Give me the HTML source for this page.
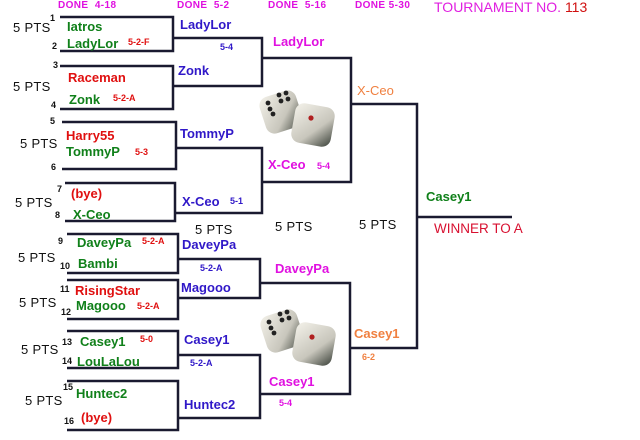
<!DOCTYPE html>
<html><head><meta charset="utf-8"><style>
body{margin:0;background:#fff;width:640px;height:440px;overflow:hidden;position:relative;font-family:"Liberation Sans",sans-serif}
.t{position:absolute;white-space:nowrap;line-height:1;font-weight:bold}
.n{font-size:13px}
.s{font-size:9px}
.p{font-size:13px;font-weight:normal;color:#111;letter-spacing:0.3px}
.g{color:#10801a}.r{color:#e01010}.b{color:#3018c8}.m{color:#e010e0}.o{color:#f08040}.k{color:#111}
.h{font-size:10px;color:#e010e0;letter-spacing:0.4px}
svg{position:absolute;left:0;top:0}
</style></head><body>
<svg width="640" height="440">
<g stroke="#1a1a30" stroke-width="2.5" fill="none">
<polyline points="60,17 173,17 173,51 60,51"/>
<polyline points="60,66 173,66 173,109 60,109"/>
<polyline points="62,122 176,122 176,169 62,169"/>
<polyline points="65,183 175,183 175,221 65,221"/>
<polyline points="173,38 262,38 262,86 173,86"/>
<polyline points="176,148 262,148 262,213 175,213"/>
<polyline points="262,58 351,58 351,182 262,182"/>
<polyline points="67,234 178,234 178,273 67,273"/>
<polyline points="67,280 178,280 178,319 67,319"/>
<polyline points="67,331 178,331 178,368 67,368"/>
<polyline points="67,381 178,381 178,430 67,430"/>
<polyline points="178,259 260,259 260,298 178,298"/>
<polyline points="178,355 260,355 260,418 178,418"/>
<polyline points="260,283 350,283 350,394 260,394"/>
<polyline points="351,104 417,104 417,348 350,348"/>
<line x1="417" y1="217" x2="512" y2="217"/>
</g>
<defs><linearGradient id="dg" x1="0" y1="0" x2="1" y2="1"><stop offset="0" stop-color="#f4f2ea"/><stop offset="0.6" stop-color="#c8c6bc"/><stop offset="1" stop-color="#3a4038"/></linearGradient></defs>
<g id="dice">
<rect x="262" y="93" width="38" height="38" rx="9" fill="url(#dg)" transform="rotate(-18 281 112)"/>
<g fill="#222"><circle cx="279" cy="95" r="2.4"/><circle cx="286" cy="93" r="2.4"/><circle cx="281" cy="101" r="2.4"/><circle cx="288" cy="99" r="2.4"/><circle cx="268" cy="103" r="2.4"/><circle cx="270" cy="109" r="2.4"/><circle cx="273" cy="114" r="2.4"/></g>
<rect x="293" y="105" width="40" height="40" rx="9" fill="url(#dg)" transform="rotate(10 313 125)"/>
<circle cx="311" cy="118" r="2.6" fill="#b02020"/>
</g>
<use href="#dice" transform="translate(1,219)"/>
</svg>
<div class="t h" style="left:58px;top:1px">DONE &nbsp;4-18</div>
<div class="t h" style="left:177px;top:1px">DONE &nbsp;5-2</div>
<div class="t h" style="left:268px;top:1px">DONE &nbsp;5-16</div>
<div class="t h" style="left:355px;top:1px">DONE 5-30</div>
<div class="t" style="left:434px;top:0px;font-size:14px;font-weight:normal;color:#e020e0">TOURNAMENT NO. <span style="color:#d01010">113</span></div>

<div class="t p" style="left:13px;top:21px">5 PTS</div>
<div class="t s k" style="left:50px;top:14px">1</div><div class="t s k" style="left:52px;top:42px">2</div>
<div class="t n g" style="left:67px;top:20px">Iatros</div>
<div class="t n g" style="left:67px;top:37px">LadyLor</div>
<div class="t s r" style="left:128px;top:38px">5-2-F</div>

<div class="t p" style="left:13px;top:80px">5 PTS</div>
<div class="t s k" style="left:53px;top:61px">3</div><div class="t s k" style="left:51px;top:101px">4</div>
<div class="t n r" style="left:68px;top:71px">Raceman</div>
<div class="t n g" style="left:69px;top:93px">Zonk</div>
<div class="t s r" style="left:113px;top:94px">5-2-A</div>

<div class="t p" style="left:20px;top:137px">5 PTS</div>
<div class="t s k" style="left:50px;top:117px">5</div><div class="t s k" style="left:51px;top:163px">6</div>
<div class="t n r" style="left:66px;top:129px">Harry55</div>
<div class="t n g" style="left:66px;top:145px">TommyP</div>
<div class="t s r" style="left:135px;top:148px">5-3</div>

<div class="t p" style="left:15px;top:196px">5 PTS</div>
<div class="t s k" style="left:57px;top:185px">7</div><div class="t s k" style="left:55px;top:211px">8</div>
<div class="t n r" style="left:71px;top:187px">(bye)</div>
<div class="t n g" style="left:73px;top:208px">X-Ceo</div>

<div class="t n b" style="left:180px;top:18px">LadyLor</div>
<div class="t s b" style="left:220px;top:43px">5-4</div>
<div class="t n b" style="left:178px;top:64px">Zonk</div>
<div class="t n b" style="left:180px;top:127px">TommyP</div>
<div class="t n b" style="left:182px;top:195px">X-Ceo</div>
<div class="t s b" style="left:230px;top:197px">5-1</div>

<div class="t n m" style="left:273px;top:35px">LadyLor</div>
<div class="t n m" style="left:268px;top:158px">X-Ceo</div>
<div class="t s m" style="left:317px;top:162px">5-4</div>
<div class="t n o" style="left:357px;top:84px;font-weight:normal">X-Ceo</div>
<div class="t n g" style="left:426px;top:190px">Casey1</div>
<div class="t" style="left:434px;top:222px;font-size:13.5px;font-weight:normal;color:#d81030">WINNER TO A</div>
<div class="t p" style="left:359px;top:218px">5 PTS</div>
<div class="t p" style="left:195px;top:223px">5 PTS</div>
<div class="t p" style="left:275px;top:220px">5 PTS</div>

<div class="t p" style="left:18px;top:251px">5 PTS</div>
<div class="t s k" style="left:58px;top:237px">9</div><div class="t s k" style="left:60px;top:262px">10</div>
<div class="t n g" style="left:77px;top:236px">DaveyPa</div>
<div class="t n g" style="left:78px;top:257px">Bambi</div>
<div class="t s r" style="left:142px;top:237px">5-2-A</div>

<div class="t p" style="left:19px;top:296px">5 PTS</div>
<div class="t s k" style="left:60px;top:285px">11</div><div class="t s k" style="left:61px;top:308px">12</div>
<div class="t n r" style="left:75px;top:284px">RisingStar</div>
<div class="t n g" style="left:76px;top:299px">Magooo</div>
<div class="t s r" style="left:137px;top:302px">5-2-A</div>

<div class="t p" style="left:21px;top:343px">5 PTS</div>
<div class="t s k" style="left:62px;top:338px">13</div><div class="t s k" style="left:62px;top:357px">14</div>
<div class="t n g" style="left:80px;top:335px">Casey1</div>
<div class="t n g" style="left:77px;top:355px">LouLaLou</div>
<div class="t s r" style="left:140px;top:335px">5-0</div>

<div class="t p" style="left:25px;top:394px">5 PTS</div>
<div class="t s k" style="left:63px;top:383px">15</div><div class="t s k" style="left:64px;top:417px">16</div>
<div class="t n g" style="left:76px;top:387px">Huntec2</div>
<div class="t n r" style="left:81px;top:411px">(bye)</div>

<div class="t n b" style="left:182px;top:238px">DaveyPa</div>
<div class="t s b" style="left:200px;top:264px">5-2-A</div>
<div class="t n b" style="left:181px;top:281px">Magooo</div>
<div class="t n b" style="left:184px;top:333px">Casey1</div>
<div class="t s b" style="left:190px;top:359px">5-2-A</div>
<div class="t n b" style="left:184px;top:398px">Huntec2</div>

<div class="t n m" style="left:275px;top:262px">DaveyPa</div>
<div class="t n m" style="left:269px;top:375px">Casey1</div>
<div class="t s m" style="left:279px;top:399px">5-4</div>
<div class="t n o" style="left:354px;top:327px">Casey1</div>
<div class="t s o" style="left:362px;top:353px">6-2</div>
</body></html>
